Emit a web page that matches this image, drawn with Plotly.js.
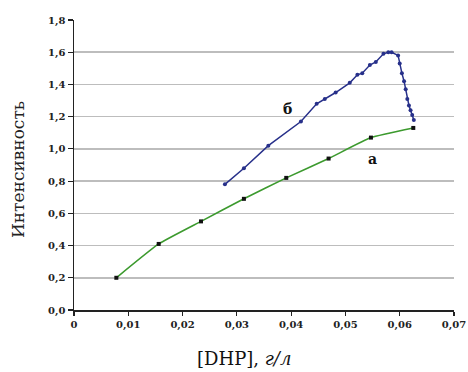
<!DOCTYPE html>
<html>
<head>
<meta charset="utf-8">
<script src="https://cdn.plot.ly/plotly-3.0.1.min.js"></script>
<style>html,body{margin:0;padding:0;background:#fff;}#chart{width:468px;height:372px;}</style>
</head>
<body>
<div id="chart"></div>
<script>
// Series "а" (green)
const xA = [0.0078, 0.0156, 0.0234, 0.0313, 0.0391, 0.0469, 0.0547, 0.0625];
const yA = [0.20, 0.41, 0.55, 0.69, 0.82, 0.94, 1.07, 1.13];
// Series "б" (blue)
const xB = [0.0278, 0.0313, 0.0358, 0.0418, 0.0447, 0.0462, 0.0482, 0.0508, 0.0522, 0.0531, 0.0545, 0.0556, 0.0570, 0.0579, 0.0585, 0.0597, 0.0600, 0.0604, 0.0608, 0.0611, 0.0614, 0.0617, 0.0620, 0.0623, 0.0626];
const yB = [0.78, 0.88, 1.02, 1.17, 1.28, 1.31, 1.35, 1.41, 1.46, 1.47, 1.52, 1.54, 1.59, 1.60, 1.60, 1.58, 1.53, 1.47, 1.42, 1.37, 1.31, 1.27, 1.24, 1.21, 1.18];
const xTicks = [0, 0.01, 0.02, 0.03, 0.04, 0.05, 0.06, 0.07];
const xTickText = ["0", "0,01", "0,02", "0,03", "0,04", "0,05", "0,06", "0,07"];
const yTicks = [0, 0.2, 0.4, 0.6, 0.8, 1.0, 1.2, 1.4, 1.6, 1.8];
const yTickText = ["0,0", "0,2", "0,4", "0,6", "0,8", "1,0", "1,2", "1,4", "1,6", "1,8"];
const labels = [
  {text: "б", x: 0.0394, y: 1.25},
  {text: "а", x: 0.0549, y: 0.94}
];
const xTitle = "[DHP], ";
const xTitleUnit = "г/л";
const yTitle = "Интенсивность";

const serif = "DejaVu Serif";
const traces = [
  {x: xA, y: yA, mode: "lines+markers", type: "scatter",
   line: {color: "#3c9a2e", width: 1.6, shape: "spline", smoothing: 0.4},
   marker: {color: "#111", size: 4, symbol: "square"}},
  {x: xB, y: yB, mode: "lines+markers", type: "scatter",
   line: {color: "#27308a", width: 1.5},
   marker: {color: "#27308a", size: 4, symbol: "circle"}}
];
const layout = {
  width: 468, height: 372,
  margin: {l: 74, r: 14, t: 20, b: 62},
  paper_bgcolor: "#fff", plot_bgcolor: "#fff",
  showlegend: false,
  font: {family: serif, color: "#111"},
  xaxis: {
    range: [0, 0.07], tickvals: xTicks, ticktext: xTickText,
    showgrid: false, zeroline: false, showline: true, linecolor: "#222", linewidth: 1.5,
    ticks: "outside", ticklen: 4, tickcolor: "#222", tickwidth: 1.2,
    tickfont: {family: serif, size: 10, color: "#222", weight: "bold"}
  },
  yaxis: {
    range: [0, 1.8], tickvals: yTicks, ticktext: yTickText,
    showgrid: true, gridcolor: "#bdbdbd", gridwidth: 1.5, zeroline: false,
    showline: true, linecolor: "#222", linewidth: 1.5,
    ticks: "outside", ticklen: 5, tickcolor: "#222", tickwidth: 1.2,
    tickfont: {family: serif, size: 10, color: "#222", weight: "bold"}
  },
  annotations: labels.map(l => ({
    x: l.x, y: l.y, xref: "x", yref: "y", text: "<b>" + l.text + "</b>",
    showarrow: false, font: {family: serif, size: 14, color: "#111"}
  })).concat([
    {xref: "paper", yref: "paper", x: 0.447, y: -0.168, xanchor: "center", yanchor: "middle",
     showarrow: false, text: xTitle + "<i>" + xTitleUnit + "</i>",
     font: {family: serif, size: 18, color: "#111"}},
    {xref: "paper", yref: "paper", x: -0.147, y: 0.483, xanchor: "center", yanchor: "middle",
     textangle: -90, showarrow: false, text: yTitle,
     font: {family: serif, size: 17, color: "#222"}}
  ])
};
Plotly.newPlot("chart", traces, layout, {displayModeBar: false, staticPlot: true});
</script>
</body>
</html>
